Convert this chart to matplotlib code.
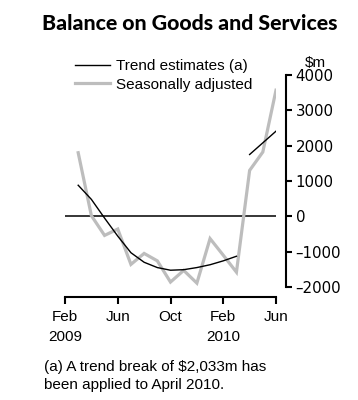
import matplotlib
matplotlib.use("Agg")
import matplotlib.pyplot as plt
import pandas as pd

# ---- data ----
seasonal_months = ["2009-03", "2009-04", "2009-05", "2009-06", "2009-07", "2009-08",
                   "2009-09", "2009-10", "2009-11", "2009-12", "2010-01", "2010-02",
                   "2010-03", "2010-04", "2010-05", "2010-06"]
seasonal_values = [1800, 20, -540, -360, -1360, -1050, -1260, -1860, -1530, -1890,
                   -630, -1100, -1580, 1300, 1820, 3570]

trend1_months = ["2009-03", "2009-04", "2009-05", "2009-06", "2009-07", "2009-08",
                 "2009-09", "2009-10", "2009-11", "2009-12", "2010-01", "2010-02",
                 "2010-03"]
trend1_values = [880, 480, -50, -560, -1030, -1300, -1450, -1525, -1510, -1450,
                 -1370, -1260, -1130]

trend2_months = ["2010-04", "2010-05", "2010-06"]
trend2_values = [1750, 2080, 2410]

tick_months = ["2009-02", "2009-06", "2009-10", "2010-02", "2010-06"]
tick_labels = ["Feb\n2009", "Jun", "Oct", "Feb\n2010", "Jun"]
y_ticks = [-2000, -1000, 0, 1000, 2000, 3000, 4000]

title = "Balance on Goods and Services"
footnote = "(a) A trend break of $2,033m has\nbeen applied to April 2010."

base = pd.Period("2009-02", freq="M")


def midx(ms):
    return [(pd.Period(m, freq="M") - base).n for m in ms]


plt.rcParams["font.family"] = ["Liberation Sans", "DejaVu Sans"]

fig = plt.figure(figsize=(3.58, 4.0), dpi=100)
ax = fig.add_axes([65 / 358, 1 - 287 / 400, (276 - 65) / 358, (287 - 75) / 400])

ax.plot(midx(seasonal_months), seasonal_values, color="#bdbdbd", lw=2.3,
        solid_joinstyle="miter", label="Seasonally adjusted", zorder=2)
ax.plot(midx(trend1_months), trend1_values, color="black", lw=1.0,
        label="Trend estimates (a)", zorder=3)
ax.plot(midx(trend2_months), trend2_values, color="black", lw=1.0, zorder=3)
ax.axhline(0, color="black", lw=1.1, zorder=1)

ax.set_xlim(midx(["2009-02"])[0], midx(["2010-06"])[0])
ax.set_ylim(-2000, 4000)

ax.set_xticks(midx(tick_months))
ax.set_xticklabels(tick_labels)
ax.set_yticks(y_ticks)
ax.set_yticklabels([f"\u2013{abs(v)}" if v < 0 else f"{v}" for v in y_ticks])

for s in ["top", "left"]:
    ax.spines[s].set_visible(False)
ax.spines["right"].set_position(("outward", 7.2))
ax.spines["bottom"].set_position(("outward", 7.2))
ax.spines["right"].set_linewidth(1.5)
ax.spines["bottom"].set_linewidth(1.5)
ax.yaxis.tick_right()
ax.tick_params(axis="y", direction="out", length=4, width=1.5, pad=3.0, labelsize=11)
ax.tick_params(axis="x", direction="out", length=5, width=1.5, pad=4.5, labelsize=11)
for t in ax.get_xticklabels():
    t.set_linespacing(1.5)
for t in ax.get_yticklabels():
    t.set_fontfamily(["DejaVu Sans"])
    t.set_fontsize(10.8)

handles, labels = ax.get_legend_handles_labels()
leg = ax.legend(handles[::-1], labels[::-1], loc="upper left",
                bbox_to_anchor=(75 / 358, 1 - 59 / 400), bbox_transform=fig.transFigure,
                frameon=False, fontsize=11, handlelength=2.3, handletextpad=0.4,
                labelspacing=0.3, borderaxespad=0, borderpad=0)

fig.text(315 / 358, 1 - 63 / 400, "$m", ha="center", va="center", fontsize=11)
fig.text(190 / 358, 1 - 23 / 400, title, ha="center", va="center", fontsize=15.3,
         fontweight="black", family=["Lato", "Liberation Sans", "DejaVu Sans"])
fig.text(44 / 358, 1 - 360 / 400, footnote, ha="left", va="top", fontsize=11,
         linespacing=1.4)

fig.savefig("out.png", dpi=100)
